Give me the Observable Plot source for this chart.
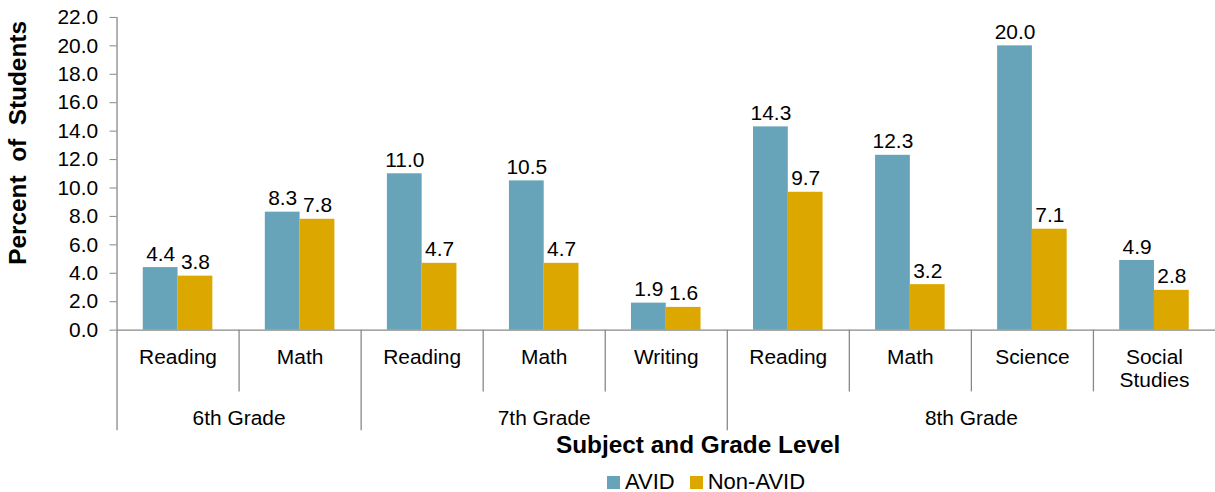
<!DOCTYPE html>
<html><head><meta charset="utf-8">
<script src="https://cdn.jsdelivr.net/npm/d3@7"></script>
<script src="https://cdn.jsdelivr.net/npm/@observablehq/plot@0.6"></script>
<style>
body{margin:0;overflow:hidden;background:#fff;font-family:"Liberation Sans",Arial,sans-serif;}
svg text{white-space:pre;}
#legend{display:flex;align-items:center;height:24px;margin-top:10px;margin-left:607px;font-size:22px;color:#000;}
#legend .sw{width:13px;height:13px;display:inline-block;margin-right:5px;}
#legend .item{display:flex;align-items:center;margin-right:15px;}
</style></head><body><div id="chart"></div><div id="legend"></div><script>
const subjects = ["Reading","Math","Reading","Math","Writing","Reading","Math","Science","Social\nStudies"];
const grades = ["6th Grade","6th Grade","7th Grade","7th Grade","7th Grade","8th Grade","8th Grade","8th Grade","8th Grade"];
const avid = [4.4, 8.3, 11.0, 10.5, 1.9, 14.3, 12.3, 20.0, 4.9];
const nonAvid = [3.8, 7.8, 4.7, 4.7, 1.6, 9.7, 3.2, 7.1, 2.8];
const seriesNames = ["AVID","Non-AVID"];
const seriesColors = ["#68a4b9","#dca800"];
const yTicks = [0,2,4,6,8,10,12,14,16,18,20,22];
const yTitle = "Percent  of  Students";
const xTitle = "Subject and Grade Level";

const bw = 0.285; // bar width as fraction of a category slot
const rows = [];
subjects.forEach((s,i)=>{
  rows.push({i, subject:s, grade:grades[i], series:seriesNames[0], value:avid[i]});
  rows.push({i, subject:s, grade:grades[i], series:seriesNames[1], value:nonAvid[i]});
});
const cats = subjects.map((s,i)=>({i, subject:s, grade:grades[i], first: i===0 || grades[i]!==grades[i-1]}));
const gradeGroups = d3.groups(cats, d=>d.grade).map(([g, arr])=>({grade:g, start:arr[0].i, end:arr[arr.length-1].i+1}));
const off = d => d.series===seriesNames[0] ? -1 : 1;

const chart = Plot.plot({
  width: 1220, height: 462,
  marginLeft: 117, marginRight: 0, marginTop: 17, marginBottom: 131,
  style: {fontFamily: '"Liberation Sans", Arial, sans-serif', color: "#000", background: "#fff"},
  x: {type: "linear", domain: [0, subjects.length], axis: null},
  y: {domain: [0, 22], axis: null},
  color: {domain: seriesNames, range: seriesColors},
  marks: [
    Plot.rectY(rows, {x1: d => d.i + 0.5 + (off(d) < 0 ? -bw : 0), x2: d => d.i + 0.5 + (off(d) < 0 ? 0 : bw), y: "value", fill: "series"}),
    Plot.text(rows, {x: d => d.i + 0.5 + off(d)*bw/2, y: "value", text: d => d.value.toFixed(1), lineAnchor: "bottom", dy: -7, fontSize: 21, fill: "#000"}),
    Plot.axisY({ticks: yTicks, tickFormat: d => d.toFixed(1), tickSize: 7, tickPadding: 12, fontSize: 21, stroke: "#888", fill: "#000", label: null}),
    Plot.ruleX([0], {y1: 0, y2: 22, stroke: "#888", strokeWidth: 1.3}),
    Plot.ruleY([0], {stroke: "#888", strokeWidth: 1.3}),
    Plot.ruleX(cats.filter(d => !d.first), {x: "i", insetTop: 314, insetBottom: -62, stroke: "#888", strokeWidth: 1.3}),
    Plot.ruleX(cats.filter(d => d.first), {x: "i", insetTop: 314, insetBottom: -101, stroke: "#888", strokeWidth: 1.3}),
    Plot.text(cats, {x: d => d.i + 0.5, text: "subject", frameAnchor: "bottom", lineAnchor: "top", dy: 18, fontSize: 21, lineHeight: 1.1, fill: "#000"}),
    Plot.text(gradeGroups, {x: d => (d.start + d.end)/2, text: "grade", frameAnchor: "bottom", lineAnchor: "top", dy: 80, fontSize: 21, fill: "#000"}),
    Plot.text([xTitle], {frameAnchor: "bottom", lineAnchor: "top", dx: 32, dy: 106, fontSize: 24.5, fontWeight: "bold", fill: "#000"}),
    Plot.text([yTitle], {frameAnchor: "left", textAnchor: "middle", rotate: -90, dx: -99, dy: -31, fontSize: 24.5, fontWeight: "bold", fill: "#000"})
  ]
});
document.getElementById("chart").appendChild(chart);
const legend = document.getElementById("legend");
seriesNames.forEach((n,k)=>{
  const it = document.createElement("span"); it.className = "item";
  const sw = document.createElement("span"); sw.className = "sw"; sw.style.background = seriesColors[k];
  it.appendChild(sw); it.appendChild(document.createTextNode(n));
  legend.appendChild(it);
});
</script></body></html>
